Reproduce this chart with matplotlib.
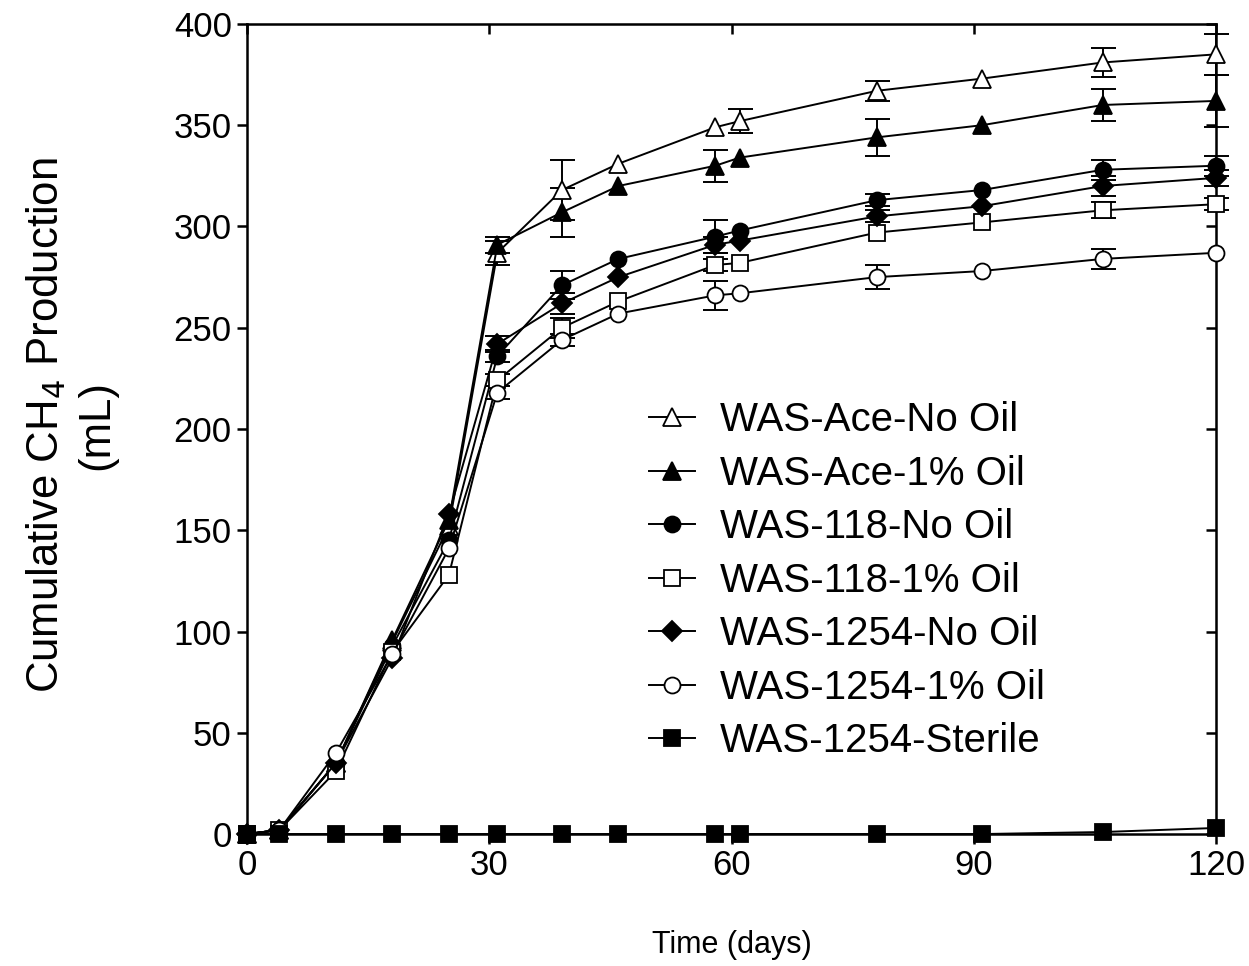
import matplotlib
matplotlib.use("Agg")
import matplotlib.pyplot as plt
from matplotlib.lines import Line2D
import numpy as np

# Sampling days
days = [0, 4, 11, 18, 25, 31, 39, 46, 58, 61, 78, 91, 106, 120]

# Cumulative CH4 production (mL) per reactor
ace_no_oil = [0, 2, 35, 95, 152, 287, 318, 331, 349, 352, 367, 373, 381, 385]
ace_oil = [0, 2, 35, 96, 155, 291, 307, 320, 330, 334, 344, 350, 360, 362]
r118_no_oil = [0, 2, 35, 93, 145, 236, 271, 284, 295, 298, 313, 318, 328, 330]
r118_oil = [0, 2, 31, 90, 128, 224, 250, 263, 281, 282, 297, 302, 308, 311]
r1254_no_oil = [0, 2, 35, 87, 158, 242, 262, 275, 291, 293, 305, 310, 320, 324]
r1254_oil = [0, 2, 40, 89, 141, 218, 244, 257, 266, 267, 275, 278, 284, 287]
r1254_sterile = [0, 0, 0, 0, 0, 0, 0, 0, 0, 0, 0, 0, 1, 3]

# Standard deviations (0 = no bar drawn)
ace_no_oil_sd = [0, 0, 0, 0, 0, 6, 15, 0, 0, 6, 5, 0, 7, 10]
ace_oil_sd = [0, 0, 0, 0, 0, 4, 12, 0, 8, 0, 9, 0, 8, 13]
r118_no_oil_sd = [0, 0, 0, 0, 0, 3, 7, 0, 8, 0, 3, 0, 5, 5]
r118_oil_sd = [0, 0, 0, 0, 0, 3, 5, 0, 3, 0, 0, 0, 4, 3]
r1254_no_oil_sd = [0, 0, 0, 0, 0, 4, 5, 0, 4, 0, 3, 0, 5, 4]
r1254_oil_sd = [0, 0, 0, 0, 0, 3, 3, 0, 7, 0, 6, 0, 5, 0]
r1254_sterile_sd = [0] * 14

labels = ["WAS-Ace-No Oil", "WAS-Ace-1% Oil", "WAS-118-No Oil", "WAS-118-1% Oil",
          "WAS-1254-No Oil", "WAS-1254-1% Oil", "WAS-1254-Sterile"]

plt.rcParams["font.family"] = ["Liberation Sans", "DejaVu Sans"]

fig = plt.figure(figsize=(12.49, 9.66), dpi=100)
ax = fig.add_axes([0.1978, 0.1366, 0.7758, 0.8386])

series = [
    (ace_no_oil, ace_no_oil_sd, "^", "white"),
    (ace_oil, ace_oil_sd, "^", "black"),
    (r118_no_oil, r118_no_oil_sd, "o", "black"),
    (r118_oil, r118_oil_sd, "s", "white"),
    (r1254_no_oil, r1254_no_oil_sd, "D", "black"),
    (r1254_oil, r1254_oil_sd, "o", "white"),
    (r1254_sterile, r1254_sterile_sd, "s", "black"),
]

handles = []
for (vals, sd, mk, fc), lab in zip(series, labels):
    ms = {"^": 12.5, "D": 10.5}.get(mk, 11.5)
    x = np.array(days)
    y = np.array(vals, dtype=float)
    e = np.array(sd, dtype=float)
    keep = e > 0
    ax.errorbar(x[keep], y[keep], yerr=e[keep], fmt="none", ecolor="black",
                elinewidth=1.4, capsize=9, capthick=1.4, clip_on=False, zorder=2)
    ax.plot(x, y, color="black", lw=1.4, marker=mk, ms=ms, mfc=fc, mec="black",
            mew=1.3, clip_on=False, zorder=3)
    handles.append(Line2D([], [], color="black", lw=1.4, marker=mk,
                          ms=ms, mfc=fc, mec="black", mew=1.3, label=lab))

ax.set_xlim(0, 120)
ax.set_ylim(0, 400)
ax.set_xticks([0, 30, 60, 90, 120])
ax.set_yticks(np.arange(0, 401, 50))

for s in ax.spines.values():
    s.set_linewidth(1.8)

ax.tick_params(axis="both", direction="out", length=7, width=1.8,
               labelsize=25, pad=4)

top = ax.secondary_xaxis("top")
top.set_xticks([0, 30, 60, 90, 120])
top.tick_params(direction="in", length=7, width=1.8, labeltop=False)
right = ax.secondary_yaxis("right")
right.set_yticks(np.arange(0, 401, 50))
right.tick_params(direction="in", length=7, width=1.8, labelright=False)

ax.set_xlabel("Time (days)", fontsize=22, labelpad=34)
ax.set_ylabel("Cumulative CH$_4$ Production\n(mL)", fontsize=31.5,
              linespacing=1.25)
ax.yaxis.set_label_coords(-0.134, 0.505)

leg = ax.legend(handles=handles, loc="upper left", bbox_to_anchor=(0.3985, 0.554),
                frameon=False, fontsize=29, handlelength=1.14, handletextpad=0.62,
                labelspacing=0.385, borderaxespad=0)

fig.savefig("out.png", dpi=100)
